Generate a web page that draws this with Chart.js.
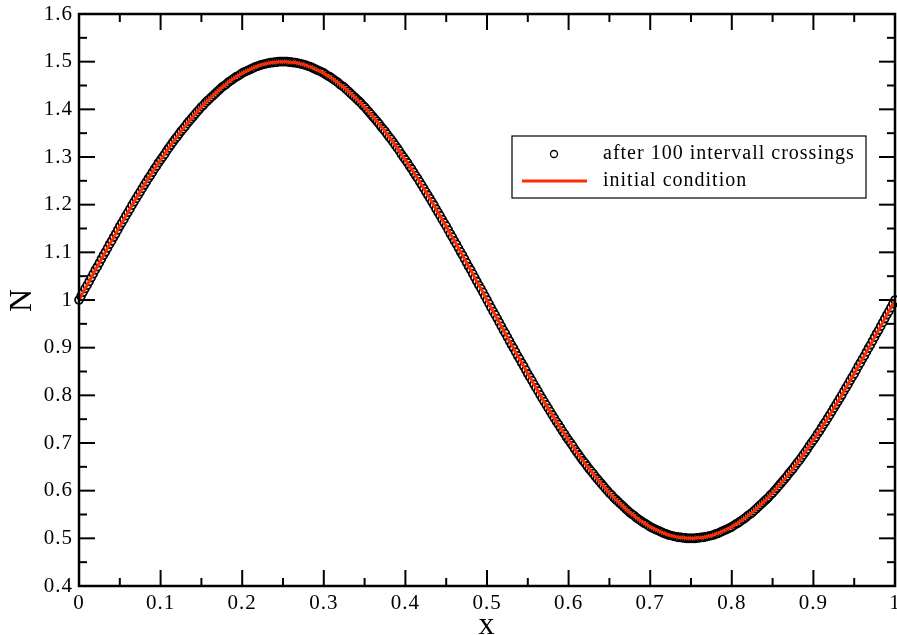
<!DOCTYPE html>
<html>
<head>
<meta charset="utf-8">
<title>N(x) after 100 intervall crossings</title>
<script src="https://cdn.jsdelivr.net/npm/chart.js@4.4.1/dist/chart.umd.min.js"></script>
<style>
  html, body { margin: 0; padding: 0; background: #fff; }
  #wrap { width: 897px; height: 635px; }
</style>
</head>
<body>
<div id="wrap"><canvas id="chart" width="897" height="635"></canvas></div>
<script>
// x positions of the samples (0 .. 1)
const xPositions = [
  0, 0.0025, 0.005, 0.0075, 0.01, 0.0125, 0.015, 0.0175, 0.02, 0.0225,
  0.025, 0.0275, 0.03, 0.0325, 0.035, 0.0375, 0.04, 0.0425, 0.045, 0.0475,
  0.05, 0.0525, 0.055, 0.0575, 0.06, 0.0625, 0.065, 0.0675, 0.07, 0.0725,
  0.075, 0.0775, 0.08, 0.0825, 0.085, 0.0875, 0.09, 0.0925, 0.095, 0.0975,
  0.1, 0.1025, 0.105, 0.1075, 0.11, 0.1125, 0.115, 0.1175, 0.12, 0.1225,
  0.125, 0.1275, 0.13, 0.1325, 0.135, 0.1375, 0.14, 0.1425, 0.145, 0.1475,
  0.15, 0.1525, 0.155, 0.1575, 0.16, 0.1625, 0.165, 0.1675, 0.17, 0.1725,
  0.175, 0.1775, 0.18, 0.1825, 0.185, 0.1875, 0.19, 0.1925, 0.195, 0.1975,
  0.2, 0.2025, 0.205, 0.2075, 0.21, 0.2125, 0.215, 0.2175, 0.22, 0.2225,
  0.225, 0.2275, 0.23, 0.2325, 0.235, 0.2375, 0.24, 0.2425, 0.245, 0.2475,
  0.25, 0.2525, 0.255, 0.2575, 0.26, 0.2625, 0.265, 0.2675, 0.27, 0.2725,
  0.275, 0.2775, 0.28, 0.2825, 0.285, 0.2875, 0.29, 0.2925, 0.295, 0.2975,
  0.3, 0.3025, 0.305, 0.3075, 0.31, 0.3125, 0.315, 0.3175, 0.32, 0.3225,
  0.325, 0.3275, 0.33, 0.3325, 0.335, 0.3375, 0.34, 0.3425, 0.345, 0.3475,
  0.35, 0.3525, 0.355, 0.3575, 0.36, 0.3625, 0.365, 0.3675, 0.37, 0.3725,
  0.375, 0.3775, 0.38, 0.3825, 0.385, 0.3875, 0.39, 0.3925, 0.395, 0.3975,
  0.4, 0.4025, 0.405, 0.4075, 0.41, 0.4125, 0.415, 0.4175, 0.42, 0.4225,
  0.425, 0.4275, 0.43, 0.4325, 0.435, 0.4375, 0.44, 0.4425, 0.445, 0.4475,
  0.45, 0.4525, 0.455, 0.4575, 0.46, 0.4625, 0.465, 0.4675, 0.47, 0.4725,
  0.475, 0.4775, 0.48, 0.4825, 0.485, 0.4875, 0.49, 0.4925, 0.495, 0.4975,
  0.5, 0.5025, 0.505, 0.5075, 0.51, 0.5125, 0.515, 0.5175, 0.52, 0.5225,
  0.525, 0.5275, 0.53, 0.5325, 0.535, 0.5375, 0.54, 0.5425, 0.545, 0.5475,
  0.55, 0.5525, 0.555, 0.5575, 0.56, 0.5625, 0.565, 0.5675, 0.57, 0.5725,
  0.575, 0.5775, 0.58, 0.5825, 0.585, 0.5875, 0.59, 0.5925, 0.595, 0.5975,
  0.6, 0.6025, 0.605, 0.6075, 0.61, 0.6125, 0.615, 0.6175, 0.62, 0.6225,
  0.625, 0.6275, 0.63, 0.6325, 0.635, 0.6375, 0.64, 0.6425, 0.645, 0.6475,
  0.65, 0.6525, 0.655, 0.6575, 0.66, 0.6625, 0.665, 0.6675, 0.67, 0.6725,
  0.675, 0.6775, 0.68, 0.6825, 0.685, 0.6875, 0.69, 0.6925, 0.695, 0.6975,
  0.7, 0.7025, 0.705, 0.7075, 0.71, 0.7125, 0.715, 0.7175, 0.72, 0.7225,
  0.725, 0.7275, 0.73, 0.7325, 0.735, 0.7375, 0.74, 0.7425, 0.745, 0.7475,
  0.75, 0.7525, 0.755, 0.7575, 0.76, 0.7625, 0.765, 0.7675, 0.77, 0.7725,
  0.775, 0.7775, 0.78, 0.7825, 0.785, 0.7875, 0.79, 0.7925, 0.795, 0.7975,
  0.8, 0.8025, 0.805, 0.8075, 0.81, 0.8125, 0.815, 0.8175, 0.82, 0.8225,
  0.825, 0.8275, 0.83, 0.8325, 0.835, 0.8375, 0.84, 0.8425, 0.845, 0.8475,
  0.85, 0.8525, 0.855, 0.8575, 0.86, 0.8625, 0.865, 0.8675, 0.87, 0.8725,
  0.875, 0.8775, 0.88, 0.8825, 0.885, 0.8875, 0.89, 0.8925, 0.895, 0.8975,
  0.9, 0.9025, 0.905, 0.9075, 0.91, 0.9125, 0.915, 0.9175, 0.92, 0.9225,
  0.925, 0.9275, 0.93, 0.9325, 0.935, 0.9375, 0.94, 0.9425, 0.945, 0.9475,
  0.95, 0.9525, 0.955, 0.9575, 0.96, 0.9625, 0.965, 0.9675, 0.97, 0.9725,
  0.975, 0.9775, 0.98, 0.9825, 0.985, 0.9875, 0.99, 0.9925, 0.995, 0.9975,
  1
];

// N (after 100 intervall crossings)
const afterCrossings = [
  1.000, 1.008, 1.016, 1.024, 1.031, 1.039, 1.047, 1.055, 1.063, 1.070,
  1.078, 1.086, 1.094, 1.101, 1.109, 1.117, 1.124, 1.132, 1.139, 1.147,
  1.155, 1.162, 1.169, 1.177, 1.184, 1.191, 1.199, 1.206, 1.213, 1.220,
  1.227, 1.234, 1.241, 1.248, 1.255, 1.261, 1.268, 1.275, 1.281, 1.288,
  1.294, 1.300, 1.306, 1.313, 1.319, 1.325, 1.331, 1.337, 1.342, 1.348,
  1.354, 1.359, 1.364, 1.370, 1.375, 1.380, 1.385, 1.390, 1.395, 1.400,
  1.405, 1.409, 1.414, 1.418, 1.422, 1.426, 1.430, 1.434, 1.438, 1.442,
  1.446, 1.449, 1.452, 1.456, 1.459, 1.462, 1.465, 1.468, 1.470, 1.473,
  1.476, 1.478, 1.480, 1.482, 1.484, 1.486, 1.488, 1.490, 1.491, 1.493,
  1.494, 1.495, 1.496, 1.497, 1.498, 1.498, 1.499, 1.499, 1.500, 1.500,
  1.500, 1.500, 1.500, 1.499, 1.499, 1.498, 1.498, 1.497, 1.496, 1.495,
  1.494, 1.493, 1.491, 1.490, 1.488, 1.486, 1.484, 1.482, 1.480, 1.478,
  1.476, 1.473, 1.470, 1.468, 1.465, 1.462, 1.459, 1.456, 1.452, 1.449,
  1.446, 1.442, 1.438, 1.434, 1.430, 1.426, 1.422, 1.418, 1.414, 1.409,
  1.405, 1.400, 1.395, 1.390, 1.385, 1.380, 1.375, 1.370, 1.364, 1.359,
  1.354, 1.348, 1.342, 1.337, 1.331, 1.325, 1.319, 1.313, 1.306, 1.300,
  1.294, 1.288, 1.281, 1.275, 1.268, 1.261, 1.255, 1.248, 1.241, 1.234,
  1.227, 1.220, 1.213, 1.206, 1.199, 1.191, 1.184, 1.177, 1.169, 1.162,
  1.155, 1.147, 1.139, 1.132, 1.124, 1.117, 1.109, 1.101, 1.094, 1.086,
  1.078, 1.070, 1.063, 1.055, 1.047, 1.039, 1.031, 1.024, 1.016, 1.008,
  1.000, 0.992, 0.984, 0.976, 0.969, 0.961, 0.953, 0.945, 0.937, 0.930,
  0.922, 0.914, 0.906, 0.899, 0.891, 0.883, 0.876, 0.868, 0.861, 0.853,
  0.845, 0.838, 0.831, 0.823, 0.816, 0.809, 0.801, 0.794, 0.787, 0.780,
  0.773, 0.766, 0.759, 0.752, 0.745, 0.739, 0.732, 0.725, 0.719, 0.712,
  0.706, 0.700, 0.694, 0.687, 0.681, 0.675, 0.669, 0.663, 0.658, 0.652,
  0.646, 0.641, 0.636, 0.630, 0.625, 0.620, 0.615, 0.610, 0.605, 0.600,
  0.595, 0.591, 0.586, 0.582, 0.578, 0.574, 0.570, 0.566, 0.562, 0.558,
  0.554, 0.551, 0.548, 0.544, 0.541, 0.538, 0.535, 0.532, 0.530, 0.527,
  0.524, 0.522, 0.520, 0.518, 0.516, 0.514, 0.512, 0.510, 0.509, 0.507,
  0.506, 0.505, 0.504, 0.503, 0.502, 0.502, 0.501, 0.501, 0.500, 0.500,
  0.500, 0.500, 0.500, 0.501, 0.501, 0.502, 0.502, 0.503, 0.504, 0.505,
  0.506, 0.507, 0.509, 0.510, 0.512, 0.514, 0.516, 0.518, 0.520, 0.522,
  0.524, 0.527, 0.530, 0.532, 0.535, 0.538, 0.541, 0.544, 0.548, 0.551,
  0.554, 0.558, 0.562, 0.566, 0.570, 0.574, 0.578, 0.582, 0.586, 0.591,
  0.595, 0.600, 0.605, 0.610, 0.615, 0.620, 0.625, 0.630, 0.636, 0.641,
  0.646, 0.652, 0.658, 0.663, 0.669, 0.675, 0.681, 0.687, 0.694, 0.700,
  0.706, 0.712, 0.719, 0.725, 0.732, 0.739, 0.745, 0.752, 0.759, 0.766,
  0.773, 0.780, 0.787, 0.794, 0.801, 0.809, 0.816, 0.823, 0.831, 0.838,
  0.845, 0.853, 0.861, 0.868, 0.876, 0.883, 0.891, 0.899, 0.906, 0.914,
  0.922, 0.930, 0.937, 0.945, 0.953, 0.961, 0.969, 0.976, 0.984, 0.992,
  1.000
];

// the red curve lies exactly on the circles in the picture
const initialCondition = afterCrossings.slice();

const seriesLabels = ['after 100 intervall crossings', 'initial condition'];
const xTitle = 'x';
const yTitle = 'N';

const FONT = "'Liberation Serif', 'Times New Roman', serif";
const RED = '#ff2a00';

const toPoints = (ys) => xPositions.map((x, i) => ({ x, y: ys[i] }));
const tickText = (v) => String(Number(v.toFixed(2)));

// white page behind everything; grace renders its Times a bit wide
const whiteBg = {
  id: 'whiteBg',
  beforeDraw(chart) {
    const { ctx, width, height } = chart;
    ctx.letterSpacing = '1px';
    ctx.save();
    ctx.fillStyle = '#fff';
    ctx.fillRect(0, 0, width, height);
    ctx.restore();
  },
};

// grace-style frame with inward ticks on all four sides
const frameTicks = {
  id: 'frameTicks',
  afterDatasetsDraw(chart) {
    const { ctx, chartArea: a, scales } = chart;
    const seg = (x1, y1, x2, y2) => {
      ctx.beginPath();
      ctx.moveTo(x1, y1);
      ctx.lineTo(x2, y2);
      ctx.stroke();
    };
    ctx.save();
    ctx.strokeStyle = '#000';
    ctx.lineWidth = 2;

    const xs = scales.x.ticks.map((t) => scales.x.getPixelForValue(t.value));
    xs.forEach((px, i) => {
      seg(px, a.bottom, px, a.bottom - 16);
      seg(px, a.top, px, a.top + 16);
      if (i < xs.length - 1) {
        const mid = (px + xs[i + 1]) / 2;
        seg(mid, a.bottom, mid, a.bottom - 8);
        seg(mid, a.top, mid, a.top + 8);
      }
    });

    const ys = scales.y.ticks.map((t) => scales.y.getPixelForValue(t.value));
    ys.forEach((py, i) => {
      seg(a.left, py, a.left + 16, py);
      seg(a.right, py, a.right - 16, py);
      if (i < ys.length - 1) {
        const mid = (py + ys[i + 1]) / 2;
        seg(a.left, mid, a.left + 8, mid);
        seg(a.right, mid, a.right - 8, mid);
      }
    });

    ctx.lineWidth = 2.5;
    ctx.strokeRect(a.left, a.top, a.right - a.left, a.bottom - a.top);
    ctx.restore();
  },
};

// boxed legend inside the plot, upper right
const boxLegend = {
  id: 'boxLegend',
  afterDraw(chart) {
    const { ctx, chartArea: a } = chart;
    const [circles, line] = chart.data.datasets;
    const left = a.left + 433;
    const top = a.top + 122;
    ctx.save();
    ctx.fillStyle = '#fff';
    ctx.fillRect(left, top, 354, 62);
    ctx.strokeStyle = '#000';
    ctx.lineWidth = 1.2;
    ctx.strokeRect(left, top, 354, 62);

    const row1 = top + 18;
    const row2 = top + 45;
    ctx.beginPath();
    ctx.arc(left + 42, row1, 3.5, 0, Math.PI * 2);
    ctx.fillStyle = '#fff';
    ctx.fill();
    ctx.lineWidth = 1.3;
    ctx.strokeStyle = circles.borderColor;
    ctx.stroke();

    ctx.beginPath();
    ctx.moveTo(left + 10, row2);
    ctx.lineTo(left + 75, row2);
    ctx.lineWidth = 3;
    ctx.strokeStyle = line.borderColor;
    ctx.stroke();

    ctx.fillStyle = '#000';
    ctx.font = '20px ' + FONT;
    ctx.textBaseline = 'middle';
    ctx.textAlign = 'left';
    ctx.fillText(circles.label, left + 91, row1);
    ctx.fillText(line.label, left + 91, row2);
    ctx.restore();
  },
};

new Chart(document.getElementById('chart'), {
  type: 'scatter',
  data: {
    datasets: [
      {
        label: seriesLabels[0],
        data: toPoints(afterCrossings),
        showLine: false,
        pointStyle: 'circle',
        pointRadius: 3.9,
        pointBorderWidth: 1.8,
        borderColor: '#000',
        backgroundColor: '#fff',
        clip: false,
        order: 2,
      },
      {
        label: seriesLabels[1],
        data: toPoints(initialCondition),
        showLine: true,
        borderColor: RED,
        borderWidth: 3,
        pointRadius: 0,
        tension: 0,
        clip: false,
        order: 1,
      },
    ],
  },
  options: {
    responsive: false,
    animation: false,
    events: [],
    layout: { autoPadding: false, padding: { top: 14, right: 2, left: 0, bottom: 0 } },
    plugins: {
      legend: { display: false },
      tooltip: { enabled: false },
    },
    scales: {
      x: {
        type: 'linear',
        min: 0,
        max: 1,
        grid: { display: false, drawTicks: false },
        border: { display: false },
        ticks: {
          stepSize: 0.1,
          padding: 5,
          color: '#000',
          font: { family: FONT, size: 21 },
          autoSkip: false,
          maxRotation: 0,
          callback: tickText,
        },
        title: {
          display: true,
          text: xTitle,
          color: '#000',
          font: { family: FONT, size: 32, lineHeight: 0.6 },
          padding: 0,
        },
        afterFit(s) {
          s.height = 49;
          s.paddingLeft = 0;
          s.paddingRight = 0;
        },
      },
      y: {
        type: 'linear',
        min: 0.4,
        max: 1.6,
        grid: { display: false, drawTicks: false },
        border: { display: false },
        ticks: {
          stepSize: 0.1,
          padding: 6,
          color: '#000',
          font: { family: FONT, size: 21 },
          autoSkip: false,
          callback: tickText,
        },
        title: {
          display: true,
          text: yTitle,
          color: '#000',
          font: { family: FONT, size: 32 },
          padding: { top: 3, bottom: 0 },
        },
        afterFit(s) {
          s.width = 79;
          s.paddingTop = 0;
          s.paddingBottom = 0;
        },
      },
    },
  },
  plugins: [whiteBg, frameTicks, boxLegend],
});
</script>
</body>
</html>
